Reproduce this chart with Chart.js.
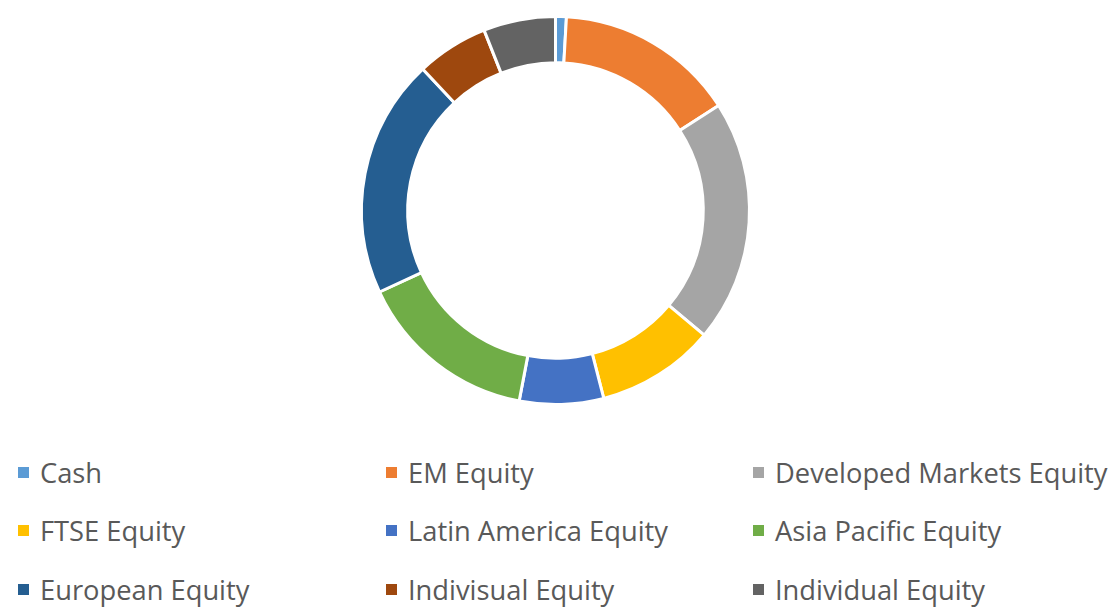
<!DOCTYPE html>
<html>
<head>
<meta charset="utf-8">
<script src="https://cdn.jsdelivr.net/npm/chart.js@4"></script>
<style>
    html, body { margin: 0; padding: 0; background: #ffffff; }
    body { width: 1109px; height: 608px; position: relative; overflow: hidden; font-family: 'Open Sans', sans-serif; }
    #chartBox { position: absolute; left: 0; top: 0; width: 1109px; height: 421px; }
    #legend { position: absolute; left: 0; top: 443px; width: 1109px; }
    .legend-item { position: absolute; height: 58px; display: flex; align-items: center; color: #595959; font-size: 27.3px; white-space: nowrap; }
    .legend-swatch { width: 11px; height: 11px; margin-right: 11px; flex: none; }
</style>
</head>
<body>
<div id="chartBox"><canvas id="allocationChart"></canvas></div>
<div id="legend"></div>
<script>
// Portfolio allocation (percent)
const categories = ['Cash', 'EM Equity', 'Developed Markets Equity', 'FTSE Equity', 'Latin America Equity',
    'Asia Pacific Equity', 'European Equity', 'Indivisual Equity', 'Individual Equity'];
const allocation = [0.9, 15, 20.2, 9.9, 7, 15.1, 19.9, 6, 6];
const sliceColors = ['#5B9BD5', '#ED7D31', '#A5A5A5', '#FFC000', '#4472C4',
    '#70AD47', '#255E91', '#9E480E', '#636363'];

// Legend: three columns, filled row by row
const legendColumns = [18, 386, 753];
const legendRowTop = [0, 58.5, 117.5];
const legendBox = document.getElementById('legend');
categories.forEach((name, i) => {
    const item = document.createElement('div');
    item.className = 'legend-item';
    item.style.left = legendColumns[i % 3] + 'px';
    item.style.top = legendRowTop[Math.floor(i / 3)] + 'px';
    item.innerHTML = `<span class="legend-swatch" style="background:${sliceColors[i]}"></span><span>${name}</span>`;
    legendBox.appendChild(item);
});

new Chart(document.getElementById('allocationChart'), {
    type: 'doughnut',
    data: {
        labels: categories,
        datasets: [{
            data: allocation,
            backgroundColor: sliceColors,
            borderColor: '#ffffff',
            borderWidth: 3
        }]
    },
    options: {
        responsive: true,
        maintainAspectRatio: false,
        animation: false,
        radius: 194,
        cutout: 147,
        layout: { padding: { top: 16, bottom: 16, left: 2 } },
        plugins: {
            legend: { display: false },
            tooltip: { enabled: false }
        }
    }
});
</script>
</body>
</html>
